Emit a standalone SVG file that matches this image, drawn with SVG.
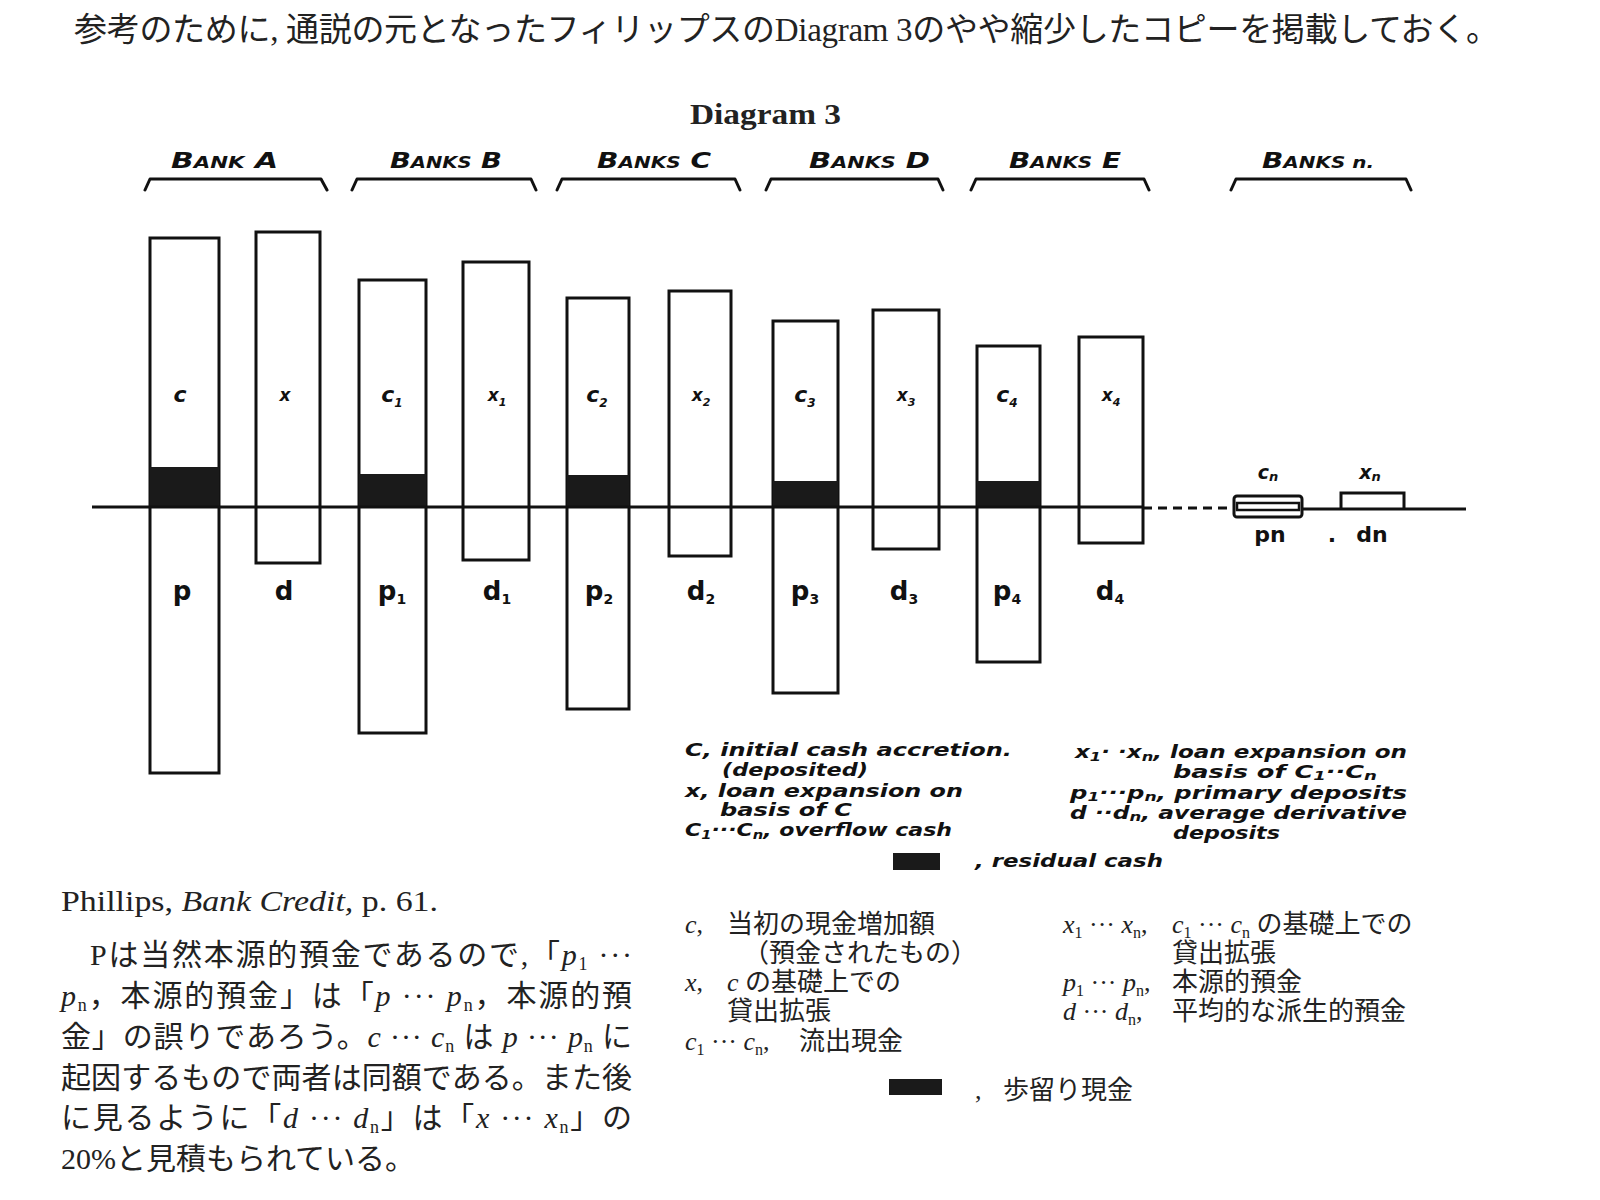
<svg xmlns="http://www.w3.org/2000/svg" width="1600" height="1200" viewBox="0 0 1600 1200">
<style>
.jp{font-family:"Liberation Serif","Noto Sans CJK JP",serif;fill:#222}
.it{font-style:italic}
.hw{font-family:"DejaVu Sans","Liberation Sans",sans-serif;font-weight:bold;font-style:oblique;fill:#111}
.lb{font-family:"DejaVu Sans","Liberation Sans",sans-serif;font-weight:bold;fill:#111}
.bar{fill:#fff;stroke:#111;stroke-width:3}
.res{fill:#1a1a1a}
.brk{fill:none;stroke:#111;stroke-width:3;stroke-linejoin:round;stroke-linecap:round}
.ax{stroke:#111;stroke-width:3;fill:none}
</style>
<rect width="1600" height="1200" fill="#fff"/>

<g id="heading">
<text class="jp" x="74" y="41" font-size="33" textLength="1425">参考のために, 通説の元となったフィリップスのDiagram 3のやや縮少したコピーを掲載しておく。</text>
</g>
<g id="diagram-title">
<text class="jp" x="690" y="124" font-size="30" font-weight="bold" textLength="151" lengthAdjust="spacingAndGlyphs">Diagram 3</text>
</g>

<g id="bank-headers">
<g id="hdr-A"><text class="hw" x="171" y="168" font-size="21" textLength="107" lengthAdjust="spacingAndGlyphs">B<tspan font-size="15">ANK</tspan>  A</text><path class="brk" d="M145,190 L150,179 L321,179 L327,190"/></g>
<g id="hdr-B"><text class="hw" x="390" y="168" font-size="21" textLength="112" lengthAdjust="spacingAndGlyphs">B<tspan font-size="15">ANKS</tspan> B</text><path class="brk" d="M352,190 L357,179 L531,179 L536,190"/></g>
<g id="hdr-C"><text class="hw" x="597" y="168" font-size="21" textLength="114" lengthAdjust="spacingAndGlyphs">B<tspan font-size="15">ANKS</tspan> C</text><path class="brk" d="M557,190 L562,179 L735,179 L740,190"/></g>
<g id="hdr-D"><text class="hw" x="809" y="168" font-size="21" textLength="121" lengthAdjust="spacingAndGlyphs">B<tspan font-size="15">ANKS</tspan> D</text><path class="brk" d="M766,190 L771,179 L938,179 L943,190"/></g>
<g id="hdr-E"><text class="hw" x="1009" y="168" font-size="21" textLength="112" lengthAdjust="spacingAndGlyphs">B<tspan font-size="15">ANKS</tspan> E</text><path class="brk" d="M971,190 L976,179 L1144,179 L1149,190"/></g>
<g id="hdr-n"><text class="hw" x="1262" y="168" font-size="21" textLength="112" lengthAdjust="spacingAndGlyphs">B<tspan font-size="15">ANKS n.</tspan></text><path class="brk" d="M1231,190 L1236,179 L1406,179 L1411,190"/></g>
</g>

<g id="bank-A">
<rect class="bar" x="150" y="238" width="69" height="535"/>
<rect class="res" x="150" y="467" width="69" height="40"/>
<rect class="bar" x="256" y="232" width="64" height="331"/>
<text class="hw" x="180" y="402" font-size="22" text-anchor="middle">c</text>
<text class="hw" x="285" y="401" font-size="17" text-anchor="middle">x</text>
<text class="lb" x="182" y="600" font-size="26" text-anchor="middle">p</text>
<text class="lb" x="284" y="600" font-size="26" text-anchor="middle">d</text>
</g>
<g id="bank-B">
<rect class="bar" x="359" y="280" width="67" height="453"/>
<rect class="res" x="359" y="474" width="67" height="33"/>
<rect class="bar" x="463" y="262" width="66" height="298"/>
<text class="hw" x="392" y="402" font-size="22" text-anchor="middle">c<tspan font-size="12" dy="5">1</tspan></text>
<text class="hw" x="497" y="401" font-size="17" text-anchor="middle">x<tspan font-size="11" dy="5">1</tspan></text>
<text class="lb" x="392" y="600" font-size="26" text-anchor="middle">p<tspan font-size="14" dy="4">1</tspan></text>
<text class="lb" x="497" y="600" font-size="26" text-anchor="middle">d<tspan font-size="14" dy="4">1</tspan></text>
</g>
<g id="bank-C">
<rect class="bar" x="567" y="298" width="62" height="411"/>
<rect class="res" x="567" y="475" width="62" height="32"/>
<rect class="bar" x="669" y="291" width="62" height="265"/>
<text class="hw" x="597" y="402" font-size="22" text-anchor="middle">c<tspan font-size="12" dy="5">2</tspan></text>
<text class="hw" x="701" y="401" font-size="17" text-anchor="middle">x<tspan font-size="11" dy="5">2</tspan></text>
<text class="lb" x="599" y="600" font-size="26" text-anchor="middle">p<tspan font-size="14" dy="4">2</tspan></text>
<text class="lb" x="701" y="600" font-size="26" text-anchor="middle">d<tspan font-size="14" dy="4">2</tspan></text>
</g>
<g id="bank-D">
<rect class="bar" x="773" y="321" width="65" height="372"/>
<rect class="res" x="773" y="481" width="65" height="26"/>
<rect class="bar" x="873" y="310" width="66" height="239"/>
<text class="hw" x="805" y="402" font-size="22" text-anchor="middle">c<tspan font-size="12" dy="5">3</tspan></text>
<text class="hw" x="906" y="401" font-size="17" text-anchor="middle">x<tspan font-size="11" dy="5">3</tspan></text>
<text class="lb" x="805" y="600" font-size="26" text-anchor="middle">p<tspan font-size="14" dy="4">3</tspan></text>
<text class="lb" x="904" y="600" font-size="26" text-anchor="middle">d<tspan font-size="14" dy="4">3</tspan></text>
</g>
<g id="bank-E">
<rect class="bar" x="977" y="346" width="63" height="316"/>
<rect class="res" x="977" y="481" width="63" height="26"/>
<rect class="bar" x="1079" y="337" width="64" height="206"/>
<text class="hw" x="1007" y="402" font-size="22" text-anchor="middle">c<tspan font-size="12" dy="5">4</tspan></text>
<text class="hw" x="1111" y="401" font-size="17" text-anchor="middle">x<tspan font-size="11" dy="5">4</tspan></text>
<text class="lb" x="1007" y="600" font-size="26" text-anchor="middle">p<tspan font-size="14" dy="4">4</tspan></text>
<text class="lb" x="1110" y="600" font-size="26" text-anchor="middle">d<tspan font-size="14" dy="4">4</tspan></text>
</g>

<g id="connectors">
<line class="ax" x1="92" y1="507" x2="1143" y2="507"/>
<line class="ax" x1="1143" y1="508" x2="1234" y2="508" stroke-dasharray="9 6"/>
<line class="ax" x1="1302" y1="509" x2="1390" y2="509"/>
<line class="ax" x1="1390" y1="509" x2="1466" y2="509" stroke-width="4"/>
</g>

<g id="bank-n">
<rect x="1234" y="496" width="68" height="21" rx="3" fill="#fff" stroke="#111" stroke-width="3"/>
<rect x="1237" y="503" width="62" height="7" fill="#fff" stroke="#111" stroke-width="2.5"/>
<path d="M1341,509 L1341,493 L1404,493 L1404,509" fill="none" stroke="#111" stroke-width="3"/>
<text class="hw" x="1268" y="479" font-size="19" text-anchor="middle">c<tspan font-size="13" dy="2">n</tspan></text>
<text class="hw" x="1370" y="479" font-size="19" text-anchor="middle">x<tspan font-size="13" dy="2">n</tspan></text>
<text class="lb" x="1270" y="542" font-size="22" text-anchor="middle">pn</text>
<text class="lb" x="1332" y="542" font-size="22" text-anchor="middle">.</text>
<text class="lb" x="1372" y="542" font-size="22" text-anchor="middle">dn</text>
</g>

<g id="legend-en">
<text class="hw" x="685" y="756" font-size="18" textLength="327" lengthAdjust="spacingAndGlyphs">C, initial cash accretion.</text>
<text class="hw" x="722" y="776" font-size="18" textLength="146" lengthAdjust="spacingAndGlyphs">(deposited)</text>
<text class="hw" x="685" y="797" font-size="18" textLength="278" lengthAdjust="spacingAndGlyphs">x, loan expansion on</text>
<text class="hw" x="720" y="816" font-size="18" textLength="132" lengthAdjust="spacingAndGlyphs">basis of C</text>
<text class="hw" x="685" y="836" font-size="18" textLength="267" lengthAdjust="spacingAndGlyphs">C<tspan font-size="12" dy="3">1</tspan><tspan dy="-3">···C</tspan><tspan font-size="12" dy="3">n</tspan><tspan dy="-3">, overflow cash</tspan></text>
<rect class="res" x="893" y="853" width="47" height="17"/>
<text class="hw" x="975" y="867" font-size="18" textLength="188" lengthAdjust="spacingAndGlyphs">, residual cash</text>
<text class="hw" x="1075" y="758" font-size="17" textLength="332" lengthAdjust="spacingAndGlyphs">x<tspan font-size="12" dy="3">1</tspan><tspan dy="-3">· ·x</tspan><tspan font-size="12" dy="3">n</tspan><tspan dy="-3">, loan expansion on</tspan></text>
<text class="hw" x="1173" y="778" font-size="17" textLength="204" lengthAdjust="spacingAndGlyphs">basis of C<tspan font-size="12" dy="2">1</tspan><tspan dy="-2">··C</tspan><tspan font-size="12" dy="2">n</tspan></text>
<text class="hw" x="1070" y="799" font-size="17" textLength="337" lengthAdjust="spacingAndGlyphs">p<tspan font-size="12" dy="2">1</tspan><tspan dy="-2">···p</tspan><tspan font-size="12" dy="2">n</tspan><tspan dy="-2">, primary deposits</tspan></text>
<text class="hw" x="1070" y="819" font-size="17" textLength="337" lengthAdjust="spacingAndGlyphs">d ··d<tspan font-size="12" dy="2">n</tspan><tspan dy="-2">, average derivative</tspan></text>
<text class="hw" x="1173" y="839" font-size="17" textLength="107" lengthAdjust="spacingAndGlyphs">deposits</text>
</g>

<g id="source">
<text class="jp" x="61" y="911" font-size="30" textLength="377" lengthAdjust="spacingAndGlyphs">Phillips, <tspan class="it">Bank Credit,</tspan> p. 61.</text>
</g>

<g id="note">
<text class="jp" x="90" y="965" font-size="30" textLength="542">Pは当然本源的預金であるので,「<tspan class="it">p</tspan><tspan font-size="18" dy="5">1</tspan><tspan dy="-5"> ···</tspan></text>
<text class="jp" x="61" y="1006" font-size="30" textLength="571"><tspan class="it">p</tspan><tspan font-size="18" dy="5">n</tspan><tspan dy="-5">，本源的預金」は「</tspan><tspan class="it">p</tspan><tspan> ··· </tspan><tspan class="it">p</tspan><tspan font-size="18" dy="5">n</tspan><tspan dy="-5">，本源的預</tspan></text>
<text class="jp" x="61" y="1047" font-size="30" textLength="571">金」の誤りであろう。<tspan class="it">c</tspan><tspan> ··· </tspan><tspan class="it">c</tspan><tspan font-size="18" dy="5">n</tspan><tspan dy="-5"> は </tspan><tspan class="it">p</tspan><tspan> ··· </tspan><tspan class="it">p</tspan><tspan font-size="18" dy="5">n</tspan><tspan dy="-5"> に</tspan></text>
<text class="jp" x="61" y="1088" font-size="30" textLength="571">起因するもので両者は同額である。また後</text>
<text class="jp" x="61" y="1128" font-size="30" textLength="571">に見るように「<tspan class="it">d</tspan><tspan> ··· </tspan><tspan class="it">d</tspan><tspan font-size="18" dy="5">n</tspan><tspan dy="-5">」は「</tspan><tspan class="it">x</tspan><tspan> ··· </tspan><tspan class="it">x</tspan><tspan font-size="18" dy="5">n</tspan><tspan dy="-5">」の</tspan></text>
<text class="jp" x="61" y="1169" font-size="30">20%と見積もられている。</text>
</g>

<g id="legend-ja">
<text class="jp" x="685" y="933" font-size="26"><tspan class="it">c</tspan>,</text>
<text class="jp" x="727" y="933" font-size="26">当初の現金増加額</text>
<text class="jp" x="743" y="962" font-size="26">（預金されたもの）</text>
<text class="jp" x="685" y="991" font-size="26"><tspan class="it">x</tspan>,</text>
<text class="jp" x="727" y="991" font-size="26"><tspan class="it">c</tspan> の基礎上での</text>
<text class="jp" x="727" y="1020" font-size="26">貸出拡張</text>
<text class="jp" x="685" y="1050" font-size="26"><tspan class="it">c</tspan><tspan font-size="16" dy="5">1</tspan><tspan dy="-5"> ··· </tspan><tspan class="it">c</tspan><tspan font-size="16" dy="5">n</tspan><tspan dy="-5">,</tspan></text>
<text class="jp" x="799" y="1050" font-size="26">流出現金</text>
<text class="jp" x="1063" y="933" font-size="26"><tspan class="it">x</tspan><tspan font-size="16" dy="5">1</tspan><tspan dy="-5"> ··· </tspan><tspan class="it">x</tspan><tspan font-size="16" dy="5">n</tspan><tspan dy="-5">,</tspan></text>
<text class="jp" x="1172" y="933" font-size="26"><tspan class="it">c</tspan><tspan font-size="16" dy="5">1</tspan><tspan dy="-5"> ··· </tspan><tspan class="it">c</tspan><tspan font-size="16" dy="5">n</tspan><tspan dy="-5"> の基礎上での</tspan></text>
<text class="jp" x="1172" y="962" font-size="26">貸出拡張</text>
<text class="jp" x="1063" y="991" font-size="26"><tspan class="it">p</tspan><tspan font-size="16" dy="5">1</tspan><tspan dy="-5"> ··· </tspan><tspan class="it">p</tspan><tspan font-size="16" dy="5">n</tspan><tspan dy="-5">,</tspan></text>
<text class="jp" x="1172" y="991" font-size="26">本源的預金</text>
<text class="jp" x="1063" y="1020" font-size="26"><tspan class="it">d</tspan><tspan> ··· </tspan><tspan class="it">d</tspan><tspan font-size="16" dy="5">n</tspan><tspan dy="-5">,</tspan></text>
<text class="jp" x="1172" y="1020" font-size="26">平均的な派生的預金</text>
<rect class="res" x="889" y="1079" width="53" height="16"/>
<text class="jp" x="975" y="1099" font-size="26">,</text>
<text class="jp" x="1003" y="1099" font-size="26">歩留り現金</text>
</g>
</svg>
